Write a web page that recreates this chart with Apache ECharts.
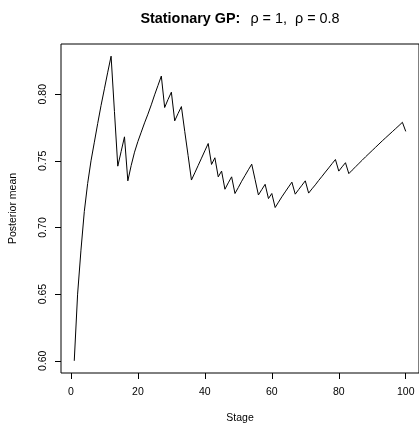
<!DOCTYPE html>
<html>
<head>
<meta charset="utf-8">
<script src="https://cdn.jsdelivr.net/npm/echarts@6/dist/echarts.min.js"></script>
<style>html,body{margin:0;padding:0;background:#fff;}#c{width:419px;height:429px;}</style>
</head>
<body>
<div id="c"></div>
<script>
const stages = Array.from({length: 100}, (_, i) => i + 1);
const posteriorMean = [
  0.600, 0.650, 0.683, 0.712, 0.733, 0.750, 0.764, 0.778, 0.7915, 0.804,
  0.8165, 0.8285, 0.787, 0.746, 0.757, 0.768, 0.735, 0.7465, 0.7565, 0.7645,
  0.7715, 0.7785, 0.785, 0.792, 0.7995, 0.8065, 0.8136, 0.790, 0.796, 0.8015,
  0.780, 0.7855, 0.7907, 0.772, 0.754, 0.7356, 0.741, 0.7465, 0.752, 0.7575,
  0.763, 0.7473, 0.7523, 0.738, 0.7423, 0.7287, 0.7335, 0.738, 0.7255, 0.730,
  0.7347, 0.739, 0.7433, 0.7475, 0.736, 0.7244, 0.7284, 0.7324, 0.7217, 0.7255,
  0.715, 0.719, 0.723, 0.7267, 0.7304, 0.734, 0.725, 0.7284, 0.7317, 0.735,
  0.7258, 0.729, 0.732, 0.7353, 0.7384, 0.7416, 0.7447, 0.7479, 0.751, 0.7423,
  0.7455, 0.7486, 0.7404, 0.743, 0.7455, 0.748, 0.7505, 0.753, 0.7554, 0.7578,
  0.7602, 0.7626, 0.765, 0.7673, 0.7696, 0.7719, 0.7742, 0.7765, 0.7789, 0.7721
];
const xTicks = [0, 20, 40, 60, 80, 100];
const yTicks = [0.60, 0.65, 0.70, 0.75, 0.80];
const titleBold = 'Stationary GP:';
const titleRest = 'ρ = 1,  ρ = 0.8';
const xName = 'Stage';
const yName = 'Posterior mean';

// R-style 4% axis extension
const xMin0 = Math.min(...stages), xMax0 = Math.max(...stages);
const yMin0 = Math.min(...posteriorMean), yMax0 = Math.max(...posteriorMean);
const xPad = (xMax0 - xMin0) * 0.04, yPad = (yMax0 - yMin0) * 0.04;

const FONT = 'Liberation Sans, Arial, Helvetica, sans-serif';
const chart = echarts.init(document.getElementById('c'), null, {renderer: 'canvas'});
chart.setOption({
  animation: false,
  backgroundColor: '#ffffff',
  title: {
    text: '{b|' + titleBold + '}  {n|' + titleRest + '}',
    left: 235,
    textAlign: 'center',
    top: 5,
    textStyle: {
      fontFamily: FONT,
      rich: {
        b: {fontFamily: FONT, fontWeight: 'bold', fontSize: 14.4, color: '#000'},
        n: {fontFamily: FONT, fontWeight: 'normal', fontSize: 14.4, color: '#000'}
      }
    }
  },
  grid: {
    left: 59, right: -3.5, top: 44, bottom: 54,
    show: true, borderColor: '#000', borderWidth: 1, backgroundColor: 'transparent'
  },
  xAxis: {
    type: 'value',
    min: xMin0 - xPad, max: xMax0 + xPad,
    name: xName, nameLocation: 'middle', nameGap: 40,
    nameTextStyle: {fontFamily: FONT, fontSize: 10.5, color: '#000'},
    axisLine: {show: false, onZero: false},
    splitLine: {show: false},
    axisTick: {show: true, length: 6, inside: false, customValues: xTicks, lineStyle: {color: '#000'}},
    axisLabel: {show: true, customValues: xTicks, margin: 14, fontFamily: FONT, fontSize: 10.5, color: '#000',
      formatter: v => String(v)}
  },
  yAxis: {
    type: 'value',
    min: yMin0 - yPad, max: yMax0 + yPad,
    name: yName, nameLocation: 'middle', nameGap: 42, nameRotate: 90,
    nameTextStyle: {fontFamily: FONT, fontSize: 10.5, color: '#000'},
    axisLine: {show: false, onZero: false},
    splitLine: {show: false},
    axisTick: {show: true, length: 6, inside: false, customValues: yTicks, lineStyle: {color: '#000'}},
    axisLabel: {show: true, customValues: yTicks, rotate: 90, margin: 12, fontFamily: FONT, fontSize: 10.5, color: '#000',
      formatter: v => v.toFixed(2)}
  },
  series: [{
    type: 'line',
    data: stages.map((s, i) => [s, posteriorMean[i]]),
    showSymbol: false,
    symbol: 'none',
    lineStyle: {color: '#000', width: 1},
    clip: true
  }]
});
</script>
</body>
</html>
